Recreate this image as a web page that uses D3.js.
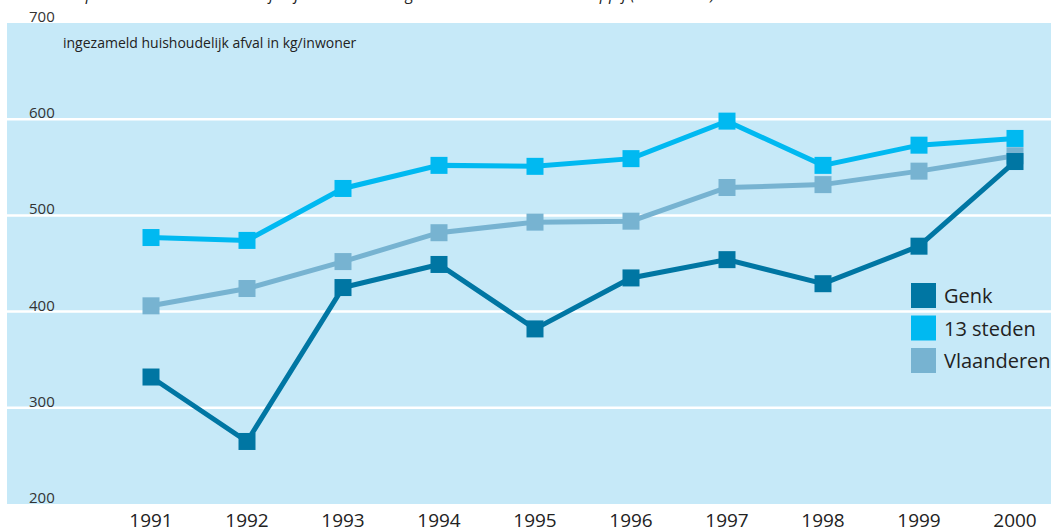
<!DOCTYPE html>
<html>
<head>
<meta charset="utf-8">
<script src="https://cdn.jsdelivr.net/npm/d3@7"></script>
<style>
  body { margin: 0; background: #fff; }
  svg { display: block; font-family: "Open Sans", sans-serif; }
</style>
</head>
<body>
<div id="vis"></div>
<script>
var width = 1051;
var height = 530;

// data
var years = [1991, 1992, 1993, 1994, 1995, 1996, 1997, 1998, 1999, 2000];
var genk = [332, 265, 425, 449, 382, 435, 454, 429, 468, 556];
var steden = [477, 474, 528, 552, 551, 559, 598, 552, 573, 580];
var vlaanderen = [406, 424, 452, 482, 493, 494, 529, 532, 546, 562];
var yTicks = [200, 300, 400, 500, 600, 700];
var seriesNames = ['Genk', '13 steden', 'Vlaanderen'];
var seriesColors = ['#0076a3', '#00b9f1', '#77b3d1'];

var x = d3.scaleLinear().domain([1991, 2000]).range([151, 1015]);
var y = d3.scaleLinear().domain([200, 700]).range([504, 23]);

var svg = d3.select('#vis').append('svg')
  .attr('width', width)
  .attr('height', height);

// cut-off caption at the very top
svg.append('text')
  .attr('x', 63)
  .attr('y', 0)
  .style('font-size', '16px')
  .style('font-style', 'italic')
  .attr('fill', '#222')
  .text('De productie van huishoudelijk afval in Vlaamse gemeenten en de maatschappij (1991-2000)');

// light blue panel
svg.append('rect')
  .attr('x', 7)
  .attr('y', y(700))
  .attr('width', width - 7)
  .attr('height', y(200) - y(700))
  .attr('fill', '#c6e9f8');

// white grid lines
svg.selectAll('.grid')
  .data(yTicks.filter(function (d) { return d > 200 && d < 700; }))
  .enter().append('line')
  .attr('class', 'grid')
  .attr('x1', 7)
  .attr('x2', width)
  .attr('y1', function (d) { return y(d); })
  .attr('y2', function (d) { return y(d); })
  .attr('stroke', '#fff')
  .attr('stroke-width', 2.5);

// y tick labels, sitting on the lines
svg.selectAll('.ytick')
  .data(yTicks)
  .enter().append('text')
  .attr('class', 'ytick')
  .attr('x', 29)
  .attr('y', function (d) { return y(d) - 1; })
  .style('font-size', '15px')
  .attr('fill', '#333')
  .text(function (d) { return d; });

svg.append('text')
  .attr('x', 63)
  .attr('y', 48)
  .style('font-size', '14px')
  .attr('fill', '#222')
  .text('ingezameld huishoudelijk afval in kg/inwoner');

// x labels
svg.selectAll('.xtick')
  .data(years)
  .enter().append('text')
  .attr('class', 'xtick')
  .attr('x', function (d) { return x(d); })
  .attr('y', 527)
  .attr('text-anchor', 'middle')
  .style('font-size', '19px')
  .attr('fill', '#222')
  .text(function (d) { return d; });

var series = [
  { name: 'Vlaanderen', values: vlaanderen, color: seriesColors[2] },
  { name: '13 steden', values: steden, color: seriesColors[1] },
  { name: 'Genk', values: genk, color: seriesColors[0] }
];

var line = d3.line()
  .x(function (d, i) { return x(years[i]); })
  .y(function (d) { return y(d); });

var ms = 17;

series.forEach(function (s) {
  var grp = svg.append('g');
  grp.append('path')
    .datum(s.values)
    .attr('d', line)
    .attr('fill', 'none')
    .attr('stroke', s.color)
    .attr('stroke-width', 5);
  grp.selectAll('rect')
    .data(s.values)
    .enter().append('rect')
    .attr('x', function (d, i) { return x(years[i]) - ms / 2; })
    .attr('y', function (d) { return y(d) - ms / 2; })
    .attr('width', ms)
    .attr('height', ms)
    .attr('fill', s.color);
});

// legend
var legend = svg.selectAll('.legend')
  .data(seriesNames)
  .enter().append('g')
  .attr('class', 'legend')
  .attr('transform', function (d, i) { return 'translate(911,' + (283 + i * 32.5) + ')'; });

legend.append('rect')
  .attr('width', 25)
  .attr('height', 25)
  .attr('fill', function (d, i) { return seriesColors[i]; });

legend.append('text')
  .attr('x', 33)
  .attr('y', 20)
  .style('font-size', '20px')
  .attr('fill', '#222')
  .text(function (d) { return d; });
</script>
</body>
</html>
